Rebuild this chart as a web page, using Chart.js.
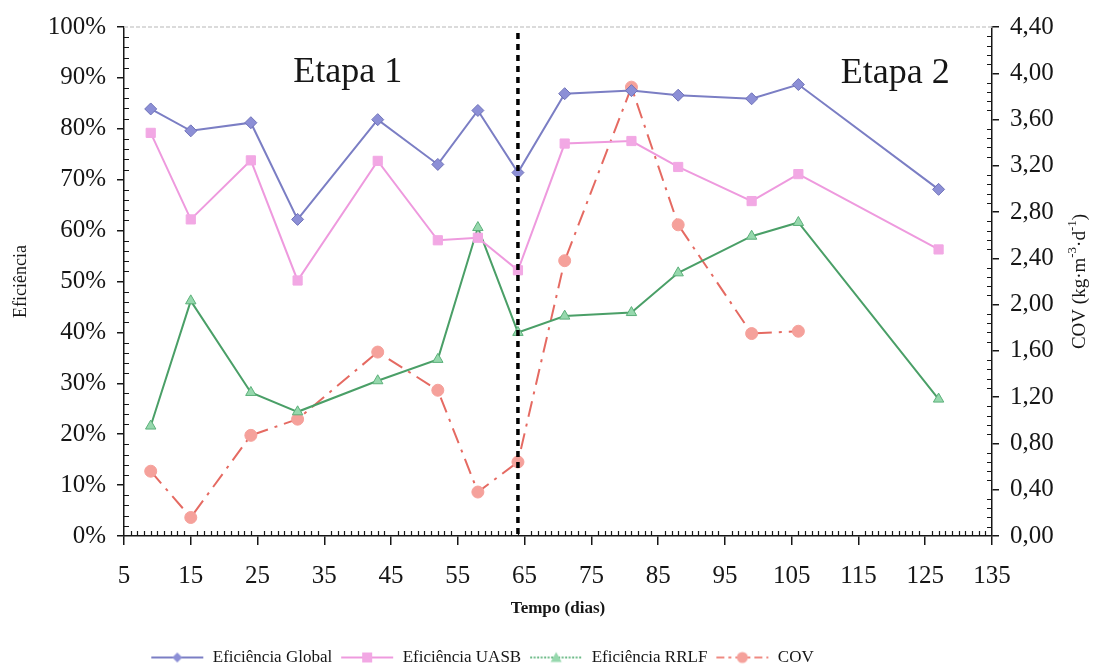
<!DOCTYPE html>
<html>
<head>
<meta charset="utf-8">
<script src="https://cdn.jsdelivr.net/npm/chart.js@4.4.1/dist/chart.umd.min.js"></script>
<style>
  html, body { margin: 0; padding: 0; background: #fff; }
  #wrap { width: 1094px; height: 671px; }
</style>
</head>
<body>
<div id="wrap"><canvas id="chart" width="1094" height="671"></canvas></div>
<script>
// tempo de operação (dias) e eficiências de remoção (%)
const dias = [9, 15, 24, 31, 43, 52, 58, 64, 71, 81, 88, 99, 106, 127];
const efGlobal = [83.9, 79.6, 81.2, 62.2, 81.8, 73.0, 83.6, 71.4, 86.9, 87.5, 86.6, 85.9, 88.7, 68.1];
const efUasb = [79.2, 62.2, 73.8, 50.2, 73.7, 58.1, 58.6, 52.2, 77.1, 77.6, 72.5, 65.8, 71.1, 56.3];
const efRrlf = [21.6, 46.2, 28.2, 24.4, 30.5, 34.7, 60.6, 40.0, 43.2, 43.9, 51.7, 58.9, 61.6, 26.9];
// carga orgânica volumétrica (kg/m3.d) - sem medição no último dia
const cov = [0.56, 0.16, 0.87, 1.01, 1.59, 1.26, 0.38, 0.64, 2.38, 3.88, 2.69, 1.75, 1.77];

const inicioEtapa2 = 64;
const etapas = [
  { texto: 'Etapa 1', x: 38.5, y: 89.2 },
  { texto: 'Etapa 2', x: 120.5, y: 89.0 }
];

const SERIF = '"Liberation Serif", "Times New Roman", serif';
const PRETO = '#161616';

function pares(xs, ys) {
  return ys.map((v, i) => ({ x: xs[i], y: v }));
}

// símbolo da legenda: linha + marcador
function simbolo(cor, corMarcador, dash, marcador) {
  const c = document.createElement('canvas');
  c.width = 54; c.height = 16;
  const g = c.getContext('2d');
  g.strokeStyle = cor;
  g.lineWidth = 2;
  g.setLineDash(dash);
  g.beginPath(); g.moveTo(1, 8); g.lineTo(53, 8); g.stroke();
  g.setLineDash([]);
  g.fillStyle = corMarcador;
  g.beginPath();
  if (marcador === 'losango') {
    g.moveTo(27, 3); g.lineTo(32, 8); g.lineTo(27, 13); g.lineTo(22, 8);
  } else if (marcador === 'quadrado') {
    g.rect(22, 3, 10, 10);
  } else if (marcador === 'triangulo') {
    g.moveTo(27, 2.5); g.lineTo(32.5, 12.5); g.lineTo(21.5, 12.5);
  } else {
    g.arc(27, 8, 5.5, 0, Math.PI * 2);
  }
  g.closePath();
  g.fill();
  return c;
}

const series = [
  {
    label: 'Eficiência Global', data: pares(dias, efGlobal), yAxisID: 'y',
    borderColor: '#7b7ec4', backgroundColor: '#8c8fd6', pointBorderColor: '#6f72b8',
    pointStyle: 'rectRot', pointRadius: 6, borderWidth: 2,
    simbolo: simbolo('#7b7ec4', '#8c8fd6', [], 'losango')
  },
  {
    label: 'Eficiência UASB', data: pares(dias, efUasb), yAxisID: 'y',
    borderColor: '#ee9ade', backgroundColor: '#f2a8e4', pointBorderColor: '#f2a8e4',
    pointStyle: 'rect', pointRadius: 6.5, borderWidth: 2,
    simbolo: simbolo('#ee9ade', '#f2a8e4', [], 'quadrado')
  },
  {
    label: 'Eficiência RRLF', data: pares(dias, efRrlf), yAxisID: 'y',
    borderColor: '#4a9f67', backgroundColor: '#96d8ad', pointBorderColor: '#5cb07a',
    pointStyle: 'triangle', pointRadius: 6, borderWidth: 2,
    simbolo: simbolo('#6dbb88', '#96d8ad', [2, 1.5], 'triangulo')
  },
  {
    label: 'COV', data: pares(dias, cov), yAxisID: 'y1',
    borderColor: '#e56a62', backgroundColor: '#f5a19b', pointBorderColor: '#f5a19b',
    pointStyle: 'circle', pointRadius: 6, borderWidth: 2, borderDash: [16, 7, 3, 7],
    simbolo: simbolo('#ef8a82', '#f5a19b', [8, 4, 3, 4], 'circulo')
  }
];

// marcas secundárias, linha de separação das etapas, textos e título do eixo direito
const extras = {
  id: 'extras',
  afterLayout(chart) {
    // legenda um pouco à esquerda e abaixo
    const lg = chart.legend;
    lg.left -= 65; lg.right -= 65;
    lg.top += 5; lg.bottom += 5;
  },
  afterDraw(chart) {
    const { ctx, chartArea: a, scales } = chart;
    const x = scales.x, yL = scales.y, yR = scales.y1;
    ctx.save();

    // borda superior cinza
    ctx.strokeStyle = '#cfcfcf';
    ctx.lineWidth = 1.5;
    ctx.setLineDash([4, 2]);
    ctx.beginPath(); ctx.moveTo(a.left, a.top); ctx.lineTo(a.right, a.top); ctx.stroke();
    ctx.setLineDash([]);

    ctx.strokeStyle = PRETO;
    ctx.lineWidth = 1.2;
    ctx.beginPath();
    for (let v = 5; v <= 135; v++) {
      if ((v - 5) % 10 === 0) continue;
      const px = Math.round(x.getPixelForValue(v)) + 0.5;
      ctx.moveTo(px, a.bottom); ctx.lineTo(px, a.bottom - 5);
    }
    for (let v = 0; v <= 100; v += 2) {
      if (v % 10 === 0) continue;
      const py = Math.round(yL.getPixelForValue(v)) + 0.5;
      ctx.moveTo(a.left, py); ctx.lineTo(a.left + 5, py);
    }
    for (let i = 0; i <= 55; i++) {
      if (i % 5 === 0) continue;
      const py = Math.round(yR.getPixelForValue(i * 0.08)) + 0.5;
      ctx.moveTo(a.right, py); ctx.lineTo(a.right - 5, py);
    }
    ctx.stroke();

    // divisão entre etapas
    const xd = x.getPixelForValue(inicioEtapa2);
    ctx.strokeStyle = '#000';
    ctx.lineWidth = 3.5;
    ctx.setLineDash([6, 5]);
    ctx.beginPath(); ctx.moveTo(xd, a.top + 6); ctx.lineTo(xd, a.bottom); ctx.stroke();
    ctx.setLineDash([]);

    ctx.fillStyle = PRETO;
    ctx.font = '36px ' + SERIF;
    ctx.textAlign = 'center';
    ctx.textBaseline = 'alphabetic';
    etapas.forEach(e => {
      ctx.fillText(e.texto, x.getPixelForValue(e.x), yL.getPixelForValue(e.y));
    });

    // título do eixo direito com expoentes
    const partes = [
      { t: 'COV (kg·m', s: false }, { t: '-3', s: true },
      { t: '·d', s: false }, { t: '-1', s: true }, { t: ')', s: false }
    ];
    const fN = '19px ' + SERIF, fS = '13px ' + SERIF;
    let total = 0;
    partes.forEach(p => { ctx.font = p.s ? fS : fN; total += ctx.measureText(p.t).width; });
    ctx.translate(1080, (a.top + a.bottom) / 2);
    ctx.rotate(-Math.PI / 2);
    ctx.textAlign = 'left';
    ctx.textBaseline = 'middle';
    let cx = -total / 2;
    partes.forEach(p => {
      ctx.font = p.s ? fS : fN;
      ctx.fillText(p.t, cx, p.s ? -7 : 0);
      cx += ctx.measureText(p.t).width;
    });
    ctx.restore();
  }
};

const eixoBase = {
  grid: { drawOnChartArea: false, tickLength: 7, color: PRETO, lineWidth: 1.5 },
  border: { color: PRETO, width: 1.5 }
};

new Chart(document.getElementById('chart'), {
  type: 'line',
  data: {
    datasets: series.map(s => Object.assign({ tension: 0, fill: false, pointBorderWidth: 1 }, s))
  },
  options: {
    responsive: false,
    animation: false,
    layout: { padding: { top: 27, left: 0, right: 0, bottom: 0 } },
    plugins: {
      tooltip: { enabled: false },
      legend: {
        position: 'bottom',
        labels: {
          usePointStyle: true,
          pointStyleWidth: 54,
          padding: 8,
          color: PRETO,
          font: { family: SERIF, size: 17 },
          generateLabels: chart => chart.data.datasets.map((d, i) => ({
            text: d.label,
            pointStyle: d.simbolo,
            fillStyle: d.backgroundColor,
            strokeStyle: d.borderColor,
            lineWidth: 0,
            fontColor: PRETO,
            hidden: false,
            datasetIndex: i
          }))
        }
      }
    },
    scales: {
      x: Object.assign({}, eixoBase, {
        type: 'linear', min: 5, max: 135,
        grid: Object.assign({}, eixoBase.grid, { tickLength: 9 }),
        ticks: { stepSize: 10, color: PRETO, padding: 16, font: { family: SERIF, size: 25 } },
        title: {
          display: true, text: 'Tempo (dias)', color: PRETO,
          font: { family: SERIF, size: 17, weight: 'bold' },
          padding: { top: 0, bottom: 17 }
        },
        afterFit: s => { s.height = 100; }
      }),
      y: Object.assign({}, eixoBase, {
        position: 'left', min: 0, max: 100,
        ticks: { stepSize: 10, color: PRETO, padding: 11, font: { family: SERIF, size: 25 }, callback: v => v + '%' },
        title: {
          display: true, text: 'Eficiência', color: PRETO,
          font: { family: SERIF, size: 18 },
          padding: { top: 10, bottom: 0 }
        },
        afterFit: s => { s.width = 124; }
      }),
      y1: Object.assign({}, eixoBase, {
        position: 'right', min: 0, max: 4.4,
        ticks: { stepSize: 0.4, color: PRETO, padding: 11, font: { family: SERIF, size: 25 },
          callback: v => v.toFixed(2).replace('.', ',') },
        afterFit: s => { s.width = 102; }
      })
    }
  },
  plugins: [extras]
});
</script>
</body>
</html>
